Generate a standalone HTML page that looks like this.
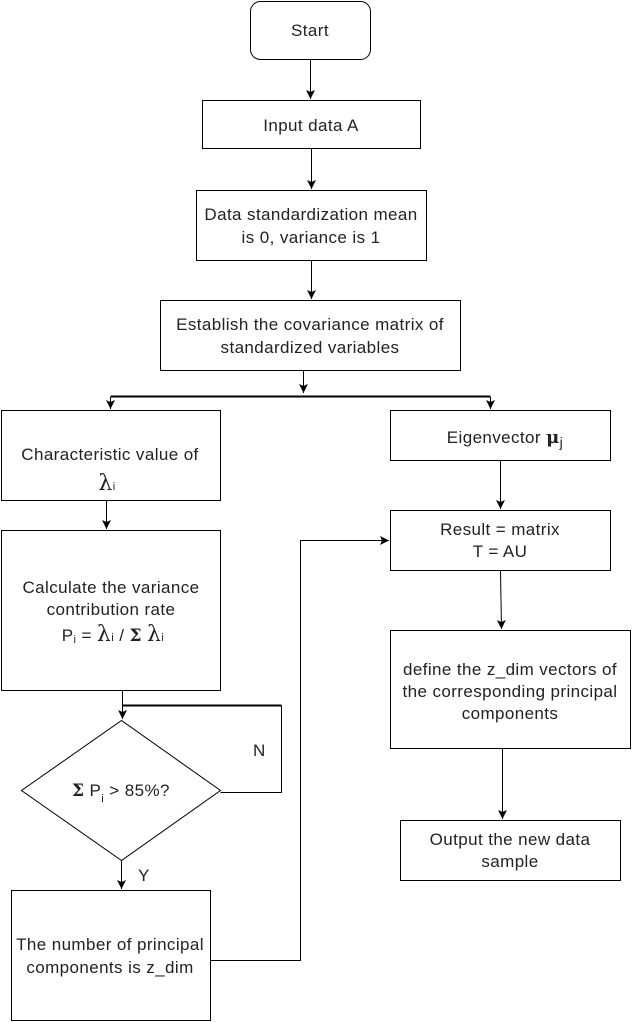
<!DOCTYPE html>
<html><head><meta charset="utf-8"><style>
html,body{margin:0;padding:0;background:#fff}
svg{display:block}
text{font-family:"Liberation Sans",Arial,sans-serif;font-size:17px;letter-spacing:0.4px;fill:#222}
.g{font-family:"DejaVu Serif","Liberation Serif",serif}
</style></head><body>
<svg width="632" height="1022" viewBox="0 0 632 1022" xmlns="http://www.w3.org/2000/svg">
<defs><marker id="a" markerWidth="12" markerHeight="12" refX="9" refY="5" orient="auto" markerUnits="userSpaceOnUse"><path d="M0,0.5 L9,5 L0,9.5 L2,5 Z" fill="#000"/></marker></defs>
<g fill="none" stroke="#000" stroke-width="1">
<rect x="250.5" y="1.5" width="120" height="58" rx="10"/>
<rect x="202.5" y="100.5" width="218" height="48"/>
<rect x="196.5" y="190.5" width="230" height="70"/>
<rect x="160.5" y="300.5" width="300" height="70"/>
<rect x="1.5" y="410.5" width="219" height="90"/>
<rect x="390.5" y="410.5" width="220" height="50"/>
<rect x="1.5" y="530.5" width="219" height="160"/>
<rect x="390.5" y="510.5" width="220" height="60"/>
<rect x="390.5" y="630.5" width="240" height="118"/>
<rect x="400.5" y="820.5" width="220" height="60"/>
<rect x="11.5" y="890.5" width="199" height="130"/>
<path d="M121.5,720.5 L220.5,790.5 L121.5,860.5 L21.5,790.5 Z"/>
<path d="M310.5,60 V99" marker-end="url(#a)"/>
<path d="M311.5,149 V189" marker-end="url(#a)"/>
<path d="M311.5,261 V299" marker-end="url(#a)"/>
<path d="M303.5,371 V393" marker-end="url(#a)"/>
<path d="M110.5,396.5 H490.5" stroke-width="2"/>
<path d="M110.5,397 V409" marker-end="url(#a)"/>
<path d="M490.5,397 V409" marker-end="url(#a)"/>
<path d="M106.5,501 V529" marker-end="url(#a)"/>
<path d="M122.5,691 V719" marker-end="url(#a)"/>
<path d="M281.5,705.5 V792.5 H220.5"/>
<path d="M122.5,705.5 H281.5" stroke-width="2"/>
<path d="M121.5,861 V889" marker-end="url(#a)"/>
<path d="M211,960.5 H300.5 V540.5 H389" marker-end="url(#a)"/>
<path d="M500.5,461 V509" marker-end="url(#a)"/>
<path d="M500.5,571 L501.5,629" marker-end="url(#a)"/>
<path d="M502.5,749 V819" marker-end="url(#a)"/>
</g>
<g text-anchor="middle">
<text x="310" y="36">Start</text>
<text x="311" y="131">Input data A</text>
<text x="311" y="220">Data standardization mean</text>
<text x="311" y="243">is 0, variance is 1</text>
<text x="310" y="330">Establish the covariance matrix of</text>
<text x="310" y="353">standardized variables</text>
<text x="110" y="460">Characteristic value of</text>
<text x="107" y="490"><tspan class="g" font-size="22">λ</tspan><tspan font-size="11">i</tspan></text>
<text x="111" y="593">Calculate the variance</text>
<text x="111" y="615">contribution rate</text>
<text x="113" y="641">P<tspan font-size="11" dy="2">i</tspan><tspan dy="-2"> =  </tspan><tspan class="g" font-size="22">λ</tspan><tspan font-size="11">i</tspan> /  <tspan class="g" font-weight="bold">Σ</tspan>  <tspan class="g" font-size="22">λ</tspan><tspan font-size="11">i</tspan></text>
<text x="505" y="443">Eigenvector  <tspan class="g" font-weight="bold" font-size="18">μ</tspan><tspan font-size="14" dy="4">j</tspan></text>
<text x="500" y="535">Result = matrix</text>
<text x="500" y="557">T = AU</text>
<text x="510" y="675">define the z_dim vectors of</text>
<text x="510" y="697">the corresponding principal</text>
<text x="510" y="719">components</text>
<text x="510" y="845">Output the new data</text>
<text x="510" y="867">sample</text>
<text x="110" y="950">The number of principal</text>
<text x="110" y="973">components is z_dim</text>
</g>
<text x="72" y="796"><tspan class="g" font-weight="bold">Σ</tspan>  P<tspan font-size="11" dy="6">i</tspan><tspan dy="-6">  &gt; 85%?</tspan></text>
<text x="253" y="756">N</text>
<text x="138" y="881">Y</text>
</svg>
</body></html>
